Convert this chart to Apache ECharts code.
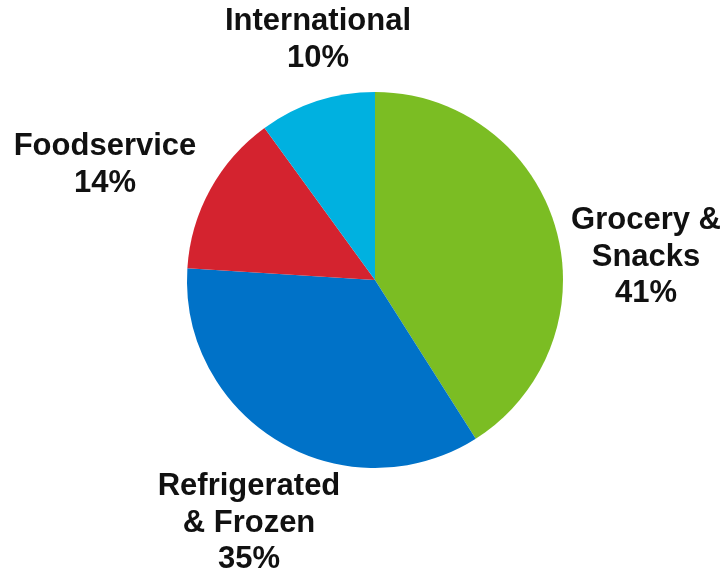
<!DOCTYPE html>
<html>
<head>
<meta charset="utf-8">
<script src="https://cdn.jsdelivr.net/npm/echarts@6/dist/echarts.min.js"></script>
<style>
html,body{margin:0;padding:0;background:#fff;}
#c{width:726px;height:572px;}
</style>
</head>
<body>
<div id="c"></div>
<script>
var categories = ['Grocery &\nSnacks', 'Refrigerated\n& Frozen', 'Foodservice', 'International'];
var values = [41, 35, 14, 10];
var colors = ['#7BBD23', '#0072C8', '#D4232F', '#00B1E0'];
// label centre positions (style only)
var labelPos = [[646, 257], [249, 523], [105, 165], [318, 40]];

var chart = echarts.init(document.getElementById('c'));
chart.setOption({
  animation: false,
  series: [{
    type: 'pie',
    center: [375, 280],
    radius: [0, 188],
    startAngle: 90,
    clockwise: true,
    data: categories.map(function (n, i) {
      return { name: n, value: values[i], itemStyle: { color: colors[i] } };
    }),
    itemStyle: { borderWidth: 0 },
    label: {
      show: true,
      position: 'outside',
      formatter: function (p) { return p.name + '\n' + p.value + '%'; },
      fontFamily: 'Liberation Sans, Arial, sans-serif',
      fontWeight: 'bold',
      fontSize: 31,
      lineHeight: 36.5,
      color: '#111',
      align: 'center',
      overflow: 'none',
      width: 300
    },
    labelLine: { show: false },
    labelLayout: function (params) {
      var p = labelPos[params.dataIndex];
      return { x: p[0], y: p[1], align: 'center', verticalAlign: 'middle' };
    }
  }]
});
</script>
</body>
</html>
